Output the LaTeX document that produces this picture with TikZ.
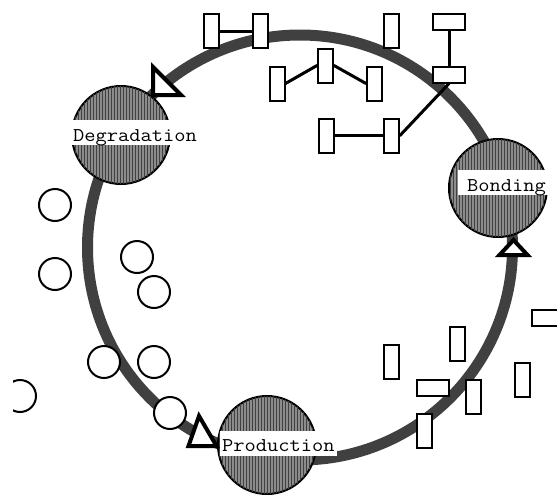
\documentclass[tikz,border=0pt]{standalone}
\usepackage{graphicx}
\usetikzlibrary{patterns}
\definecolor{ringgray}{HTML}{404040}
\begin{document}
\begin{tikzpicture}[x=1pt,y=-1pt,
  vbox/.style={draw=black,fill=white,line width=2pt,inner sep=0pt,minimum width=15pt,minimum height=34pt},
  hbox/.style={draw=black,fill=white,line width=2pt,inner sep=0pt,minimum width=32pt,minimum height=16pt},
  dot/.style={circle,draw=black,fill=white,line width=2pt,inner sep=0pt,minimum size=32pt},
  stage/.style={circle,draw=black,line width=2pt,fill=black!45,postaction={pattern=vertical lines,pattern color=black!75},inner sep=0pt,minimum size=98pt},
  lab/.style={fill=white,inner xsep=2pt,inner ysep=2pt,text height=19pt,text depth=2pt,font=\fontsize{19.5}{19.5}\selectfont\ttfamily},
  link/.style={line width=3pt,line cap=round},
  tri/.style={draw=black,fill=white,line width=4pt,line join=miter}]
\useasboundingbox (0,0) rectangle (557,498);
\clip (0,0) rectangle (557,498);
% ring
\draw[ringgray,line width=11pt] (300,247.5) circle (212.5);
% stages
\node[stage] (deg) at (121,135) {};
\node[stage] (bond) at (498,188) {};
\node[stage] (prod) at (267,445) {};
\node[lab,anchor=west] (deglab) at (71,132.5) {\scalebox{1.12}[1]{Degradation}};
\node[lab,anchor=west] (prodlab) at (220,443) {\scalebox{1.12}[1]{Production}};
\node[lab,anchor=west,text width=86pt,align=left] (bondlab) at (458,182.5) {\hspace*{7pt}\scalebox{1.12}[1]{Bonding}};
% triangles
\draw[tri] (153,67) -- (153,95) -- (181,95) -- cycle;
\draw[tri] (513.5,240) -- (527.5,255) -- (499.5,255) -- cycle;
\draw[tri] (199,416) -- (216.5,446) -- (188.5,446) -- cycle;
% top rectangles
\node[vbox] (A) at (211.5,31) {};
\node[vbox] (B) at (260.5,31) {};
\node[vbox] (C) at (391.5,31) {};
\node[hbox] (D) at (449,22) {};
\node[hbox] (E) at (449,74.5) {};
\node[vbox] (F) at (277,83.5) {};
\node[vbox] (G) at (325.5,65.5) {};
\node[vbox] (H) at (374.5,83.5) {};
\node[vbox] (I) at (326,135.5) {};
\node[vbox] (J) at (391.5,135.5) {};
% right rectangles
\node[vbox] (R1) at (391.5,362) {};
\node[vbox] (R2) at (457,344) {};
\node[hbox] (R3) at (432.5,388) {};
\node[vbox] (R4) at (473,396.5) {};
\node[vbox] (R5) at (424.5,431) {};
\node[vbox] (R6) at (522.5,379.5) {};
\node[hbox] (R7) at (548,317.5) {};
% circles
\node[dot] (c1) at (55,205) {};
\node[dot] (c2) at (55,274) {};
\node[dot] (c3) at (137,257) {};
\node[dot] (c4) at (154,292) {};
\node[dot] (c5) at (104,362) {};
\node[dot] (c6) at (154,362) {};
\node[dot] (c8) at (170,413) {};
\begin{scope}
\clip (13,0) rectangle (557,498);
\node[dot] (c7) at (20,396) {};
\end{scope}
% links
\draw[link] (A.east) -- (B.west);
\draw[link] (D.south) -- (E.north);
\draw[link] (F.east) -- (G.west);
\draw[link] (G.east) -- (H.west);
\draw[link] (I.east) -- (J.west);
\draw[link] (J.east) -- (E.south);
\end{tikzpicture}
\end{document}
